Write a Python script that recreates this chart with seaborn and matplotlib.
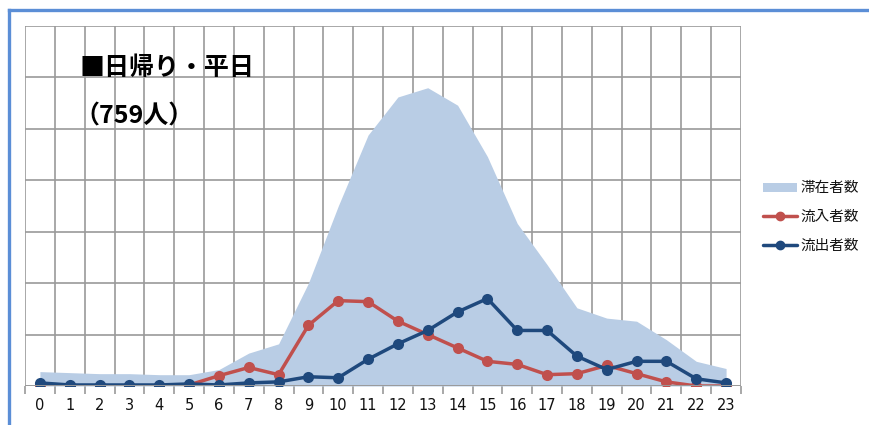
import matplotlib
matplotlib.use("Agg")
import matplotlib.pyplot as plt
import seaborn as sns
import pandas as pd
import numpy as np
from matplotlib.lines import Line2D
from matplotlib.patches import Patch

hours = list(range(24))
hour_labels = [str(h) for h in hours]
stay = [14, 13, 12, 12, 11, 11, 16, 32, 41, 100, 175, 244, 281, 290, 273, 223, 158, 118, 76, 66, 63, 45, 24, 17]
inflow = [1, 0, 0, 0, 0, 1, 10, 18, 11, 59, 83, 82, 63, 50, 37, 24, 21, 11, 12, 20, 12, 4, 0, 0]
outflow = [3, 1, 1, 1, 1, 2, 1, 3, 4, 9, 8, 26, 41, 54, 72, 85, 54, 54, 29, 16, 24, 24, 7, 3]
series_names = ["滞在者数", "流入者数", "流出者数"]
title_line1 = "■日帰り・平日"
title_line2 = "（759人）"

sns.set_theme(style="white")
plt.rcParams['font.family'] = ['DejaVu Sans', 'Noto Sans CJK JP']
cjk = ['Noto Sans CJK JP', 'DejaVu Sans']

C_AREA = "#B9CDE5"
C_RED = "#C0504D"
C_BLUE = "#1F497D"
GRID = "#9a9a9a"

fig = plt.figure(figsize=(8.69, 4.25), dpi=100)
W, H = 869, 425
ax = fig.add_axes([25 / W, (H - 386) / H, 716 / W, 360 / H])

df = pd.DataFrame({"hour": hours, "stay": stay, "inflow": inflow, "outflow": outflow})

ax.fill_between(df["hour"], df["stay"], 0, color=C_AREA, lw=0, zorder=2)
sns.lineplot(data=df, x="hour", y="inflow", ax=ax, color=C_RED, lw=2.5,
             marker="o", markersize=8, markeredgewidth=0, zorder=3)
sns.lineplot(data=df, x="hour", y="outflow", ax=ax, color=C_BLUE, lw=2.5,
             marker="o", markersize=8, markeredgewidth=0, zorder=4)

ax.set_xlim(-0.5, 23.5)
ax.set_ylim(0, 350)
ax.set_xlabel("")
ax.set_ylabel("")

ax.set_xticks(hours)
ax.set_xticklabels(hour_labels, fontsize=10.5, color="#111111")
ax.set_xticks(np.arange(-0.5, 24, 1), minor=True)
ax.set_yticks(np.arange(0, 351, 50))
ax.set_yticklabels([])
ax.tick_params(axis="x", which="major", length=0, pad=9)
ax.tick_params(axis="x", which="minor", length=6, width=1.2, color=GRID, direction="out", bottom=True)
ax.tick_params(axis="y", length=0)

ax.grid(False)
for v in np.arange(-0.5, 24, 1):
    ax.axvline(v, color=GRID, lw=1.2, zorder=1)
for v in np.arange(0, 351, 50):
    ax.axhline(v, color=GRID, lw=1.2, zorder=1)
for s in ax.spines.values():
    s.set_visible(False)
ax.axhline(0, color=GRID, lw=1.4, zorder=5)

fig.text(80 / W, 1 - 68 / H, title_line1, fontsize=18, fontweight="bold",
         family=cjk, va="center", ha="left", color="black")
fig.text(74 / W, 1 - 116 / H, title_line2, fontsize=18, fontweight="bold",
         family=cjk, va="center", ha="left", color="black")

handles = [Patch(facecolor=C_AREA, edgecolor="none"),
           Line2D([], [], color=C_RED, lw=2.5, marker="o", markersize=6),
           Line2D([], [], color=C_BLUE, lw=2.5, marker="o", markersize=6)]
leg = fig.legend(handles, series_names, loc="center left",
                 bbox_to_anchor=(763 / W, 1 - 217 / H), frameon=False,
                 prop={"family": cjk, "size": 10.5}, handlelength=2.3,
                 handleheight=0.6, labelspacing=1.0, handletextpad=0.3,
                 borderpad=0, borderaxespad=0)
for t in leg.get_texts():
    t.set_color("#111111")

border_col = "#5B8ED6"
fig.add_artist(Line2D([8.5 / W, 1.0], [1 - 10 / H, 1 - 10 / H], color=border_col, lw=2.4,
                      transform=fig.transFigure, solid_capstyle="projecting"))
fig.add_artist(Line2D([8.5 / W, 8.5 / W], [0, 1 - 10 / H], color=border_col, lw=2.4,
                      transform=fig.transFigure, solid_capstyle="projecting"))

fig.savefig("out.png", dpi=100)
